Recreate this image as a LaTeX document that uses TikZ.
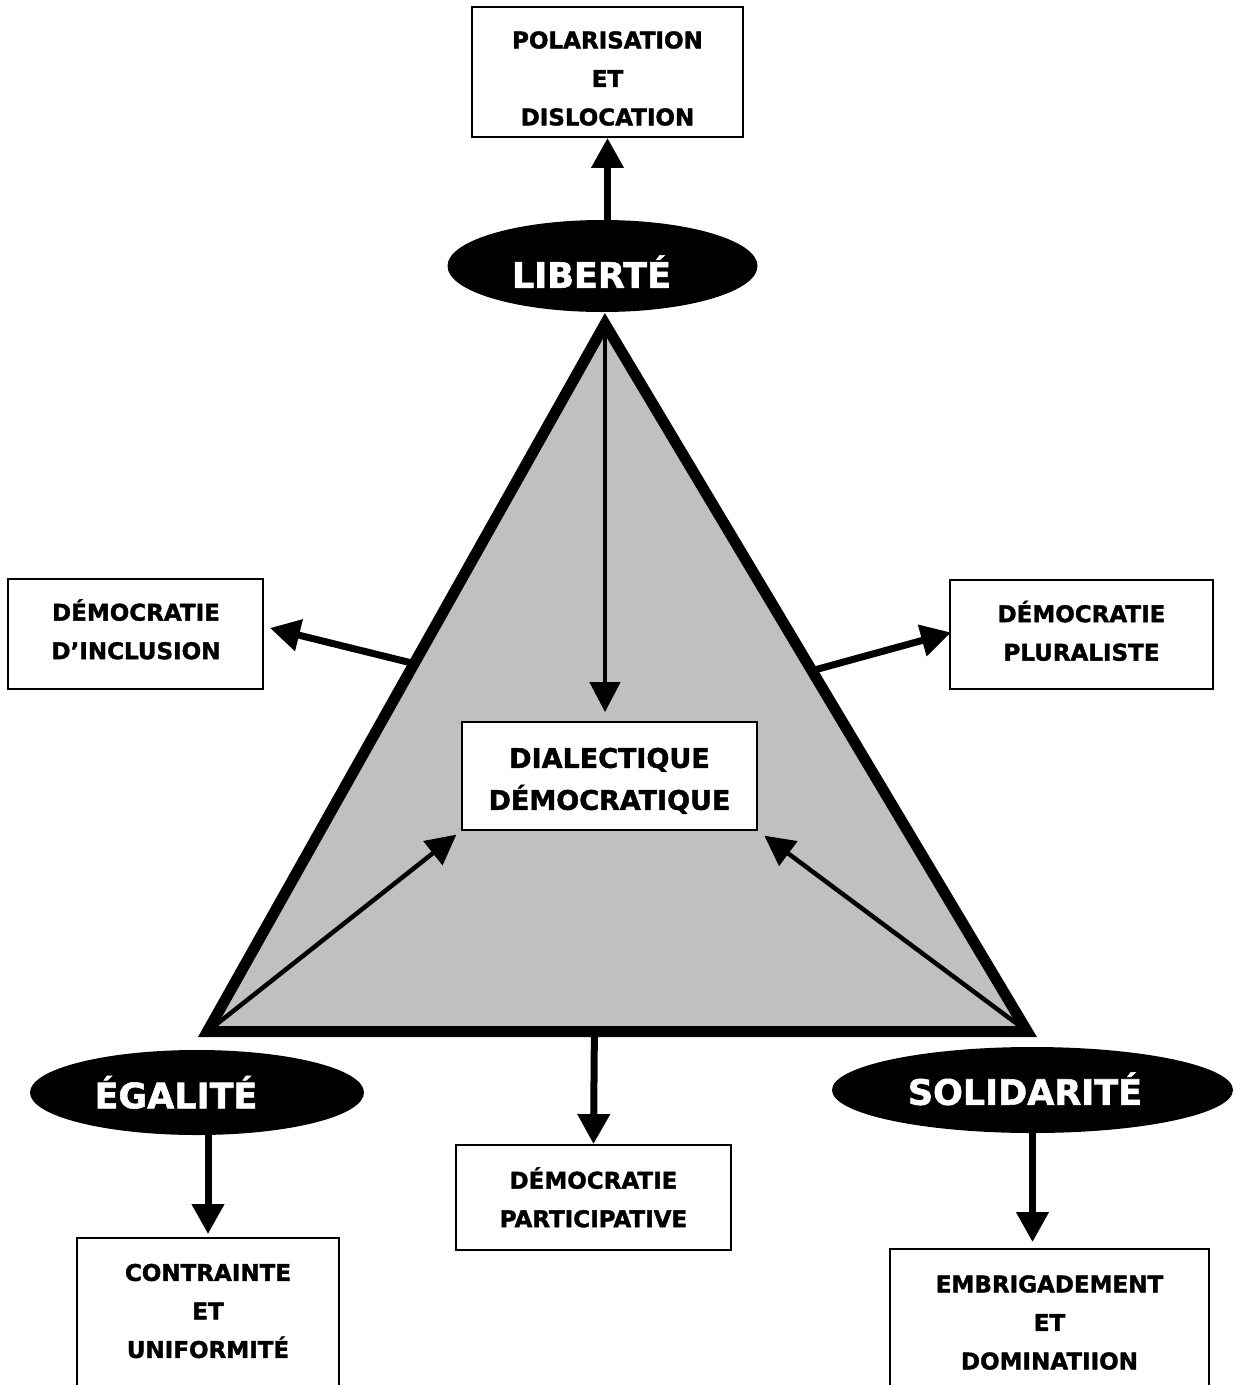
\documentclass[tikz,border=0pt]{standalone}
\usepackage{fontspec}
\setmainfont{DejaVu Sans}[BoldFeatures={FakeBold=1.6}]
\usetikzlibrary{arrows.meta,shapes.geometric,calc}
\definecolor{trigray}{RGB}{192,192,192}
% strut centred on the cap height, one baselineskip tall
\newcommand\capline{\rule[\dimexpr0.3645em-0.5\baselineskip\relax]{0pt}{\baselineskip}}

\begin{document}
\begin{tikzpicture}[x=1pt,y=-1pt,
  boxnode/.style={draw, line width=1.8pt, rectangle, inner sep=0pt, fill=white},
  oval/.style={ellipse, fill=black, draw=none, inner sep=0pt},
  lbl/.style={align=center, inner sep=0pt, font=\fontsize{23}{38.5}\selectfont\bfseries},
  biglbl/.style={align=center, inner sep=0pt, font=\fontsize{27}{42}\selectfont\bfseries},
  ovaltxt/.style={inner sep=0pt, text=white, font=\fontsize{35}{44}\selectfont\bfseries},
  bigarrow/.style={line width=7pt, -{Triangle[length=30pt,width=31pt]}},
  thinarrow/.style={line width=4.5pt, -{Triangle[length=30pt,width=30pt]}}
]
\clip (0,0) rectangle (1236,1385);

% central triangle
\coordinate (top) at (605,324);
\coordinate (bl) at (207.4,1031.5);
\coordinate (br) at (1027.3,1031.5);
\draw[line width=11pt, line join=miter, fill=trigray] (top) -- (bl) -- (br) -- cycle;

% the three values
\node[oval, minimum width=310pt, minimum height=92pt] (lib) at (602.5,266) {};
\node[ovaltxt] (libt) at (591.5,275) {\capline LIBERTÉ};
\node[oval, minimum width=334pt, minimum height=85pt] (ega) at (197,1092.5) {};
\node[ovaltxt] (egat) at (176,1095.5) {\capline ÉGALITÉ};
\node[oval, minimum width=401pt, minimum height=86pt] (sol) at (1032.5,1090) {};
\node[ovaltxt] (solt) at (1025,1092) {\capline SOLIDARITÉ};

% boxes
\node[boxnode, minimum width=271pt, minimum height=130pt] (pol) at (607.5,72) {};
\node[lbl] (polt) at (607.5,78.5) {\capline POLARISATION\\\capline ET\\\capline DISLOCATION};

\node[boxnode, minimum width=255pt, minimum height=110pt] (incl) at (135.5,634) {};
\node[lbl] (inclt) at (136,631.5) {\capline DÉMOCRATIE\\\capline D’INCLUSION};

\node[boxnode, minimum width=263pt, minimum height=109pt] (pl) at (1081.5,634.5) {};
\node[lbl] (plt) at (1081.5,633) {\capline DÉMOCRATIE\\\capline PLURALISTE};

\node[boxnode, minimum width=295pt, minimum height=108pt] (dial) at (609.5,776) {};
\node[biglbl] (dialt) at (609.5,779) {\capline DIALECTIQUE\\\capline DÉMOCRATIQUE};

\node[boxnode, minimum width=275pt, minimum height=105pt] (part) at (593.5,1197.5) {};
\node[lbl] (partt) at (593.5,1199.5) {\capline DÉMOCRATIE\\\capline PARTICIPATIVE};

\node[boxnode, minimum width=262pt, minimum height=182pt] (cont) at (208,1329) {};
\node[lbl] (contt) at (208,1311) {\capline CONTRAINTE\\\capline ET\\\capline UNIFORMITÉ};

\node[boxnode, minimum width=319pt, minimum height=171pt] (emb) at (1049.5,1334.5) {};
\node[lbl] (embt) at (1049.5,1322.5) {\capline EMBRIGADEMENT\\\capline ET\\\capline DOMINATIION};

% arrows inside the triangle
\draw[thinarrow, shorten >=9pt] (top) -- (top |- dial.north);
\draw[thinarrow, shorten >=6pt] (bl) -- (dial.south west);
\draw[thinarrow, shorten >=8pt] (br) -- (dial.south east);

% arrows leading outwards
\draw[bigarrow] (pol.south |- lib.north) -- (pol.south);
\draw[bigarrow] ($(top)!0.48!(bl)$) -- ([shift={(6,-6)}]incl.east);
\draw[bigarrow] ($(top)!0.49!(br)$) -- ([shift={(2,-2)}]pl.west);
\draw[bigarrow] ($(bl)!0.472!(br)$) -- (part.north);
\draw[bigarrow, shorten >=3pt] (cont.north |- ega.south) -- (cont.north);
\draw[bigarrow, shorten >=6pt] (sol.south) -- (sol.south |- emb.north);
\end{tikzpicture}
\end{document}
